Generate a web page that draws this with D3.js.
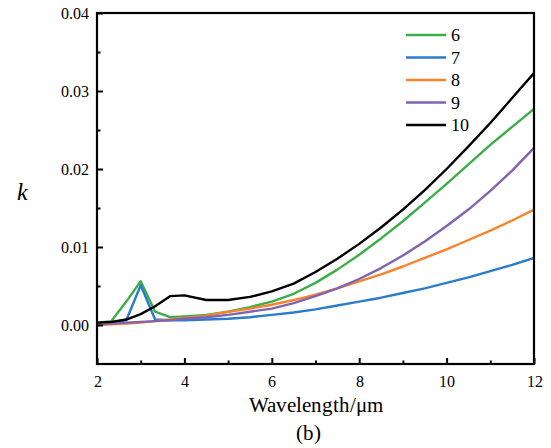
<!DOCTYPE html>
<html>
<head>
<meta charset="utf-8">
<style>
  @font-face { font-family: "ChartSerif"; src: local("Liberation Serif"), local("LiberationSerif"), local("LiberationSerif-Regular"), local("Times New Roman"); font-style: normal; }
  @font-face { font-family: "ChartSerif"; src: local("Liberation Serif Italic"), local("LiberationSerif-Italic"); font-style: italic; }
  html, body { margin: 0; padding: 0; background: #fff; font-family: "Liberation Serif", serif; }
  svg { display: block; }
  svg text { font-family: "ChartSerif", "Liberation Serif", "Times New Roman", serif; }
</style>
<script src="https://cdn.jsdelivr.net/npm/d3@7"></script>
</head>
<body>
<svg id="chart" width="551" height="448"></svg>
<script>
// ---- data ----
const wavelengths = [2, 2.33, 2.67, 3, 3.33, 3.67, 4, 4.5, 5, 5.5, 6, 6.5, 7, 7.5, 8, 8.5, 9, 9.5, 10, 10.5, 11, 11.5, 12];
const seriesNames = ["6", "7", "8", "9", "10"];
const k6  = [0.0003, 0.0005, 0.0030, 0.0056, 0.0017, 0.0010, 0.0011, 0.0013, 0.0017, 0.0023, 0.0030, 0.0040, 0.0054, 0.0071, 0.0090, 0.0111, 0.0133, 0.0157, 0.0181, 0.0206, 0.0231, 0.0254, 0.0277];
const k7  = [0.0000, 0.0002, 0.0006, 0.0051, 0.0007, 0.0006, 0.0006, 0.0007, 0.0008, 0.0010, 0.0013, 0.0016, 0.0020, 0.0025, 0.0030, 0.0035, 0.0041, 0.0047, 0.0054, 0.0061, 0.0069, 0.0077, 0.0086];
const k8  = [0.0000, 0.0001, 0.0002, 0.0003, 0.0005, 0.0007, 0.0009, 0.0012, 0.0017, 0.0021, 0.0026, 0.0032, 0.0039, 0.0047, 0.0056, 0.0065, 0.0075, 0.0086, 0.0097, 0.0109, 0.0121, 0.0134, 0.0148];
const k9  = [0.0001, 0.0002, 0.0003, 0.0004, 0.0005, 0.0006, 0.0008, 0.0010, 0.0013, 0.0017, 0.0021, 0.0028, 0.0037, 0.0047, 0.0059, 0.0073, 0.0089, 0.0107, 0.0127, 0.0148, 0.0172, 0.0198, 0.0227];
const k10 = [0.0003, 0.0004, 0.0007, 0.0014, 0.0024, 0.0037, 0.0038, 0.0032, 0.0032, 0.0036, 0.0043, 0.0053, 0.0068, 0.0085, 0.0104, 0.0125, 0.0148, 0.0173, 0.0200, 0.0229, 0.0259, 0.0291, 0.0323];
const seriesValues = [k6, k7, k8, k9, k10];
const seriesColors = ["#3aaf48", "#2a7ccb", "#f7842c", "#8063b3", "#000000"];
const xTicks = [2, 4, 6, 8, 10, 12];
const xMinorTicks = [3, 5, 7, 9, 11];
const yTicks = [0.00, 0.01, 0.02, 0.03, 0.04];
const yMinorTicks = [0.005, 0.015, 0.025, 0.035];
const yTickLabels = ["0.00", "0.01", "0.02", "0.03", "0.04"];

const FONT = "ChartSerif, Liberation Serif, Times New Roman, serif";

// ---- layout ----
const svg = d3.select("#chart").attr("font-family", FONT);
const L = 97, R = 534, T = 13, B = 364;
const x = d3.scaleLinear().domain([2, 12]).range([L, R]);
const y = d3.scaleLinear().domain([-0.005, 0.04]).range([B, T]);

svg.append("defs").append("clipPath").attr("id", "clip")
  .append("rect").attr("x", L).attr("y", T).attr("width", R - L).attr("height", B - T);

const line = d3.line().x(d => x(d[0])).y(d => y(d[1])).curve(d3.curveLinear);
const plot = svg.append("g").attr("clip-path", "url(#clip)");
seriesValues.forEach((vals, i) => {
  plot.append("path")
    .datum(wavelengths.map((w, j) => [w, vals[j]]))
    .attr("fill", "none")
    .attr("stroke", seriesColors[i])
    .attr("stroke-width", 2.4)
    .attr("stroke-linejoin", "round")
    .attr("d", line);
});

const xAxis = svg.append("g").attr("transform", `translate(0,${B})`)
  .call(d3.axisBottom(x).tickValues(xTicks).tickSize(-6).tickPadding(12).tickFormat(d3.format("d")));
const xMinor = svg.append("g").attr("transform", `translate(0,${B})`)
  .call(d3.axisBottom(x).tickValues(xMinorTicks).tickSize(-3.5).tickFormat(""));
const yAxis = svg.append("g").attr("transform", `translate(${L},0)`)
  .call(d3.axisLeft(y).tickValues(yTicks).tickSize(-6).tickPadding(8).tickFormat((d, i) => yTickLabels[i]));
const yMinor = svg.append("g").attr("transform", `translate(${L},0)`)
  .call(d3.axisLeft(y).tickValues(yMinorTicks).tickSize(-3.5).tickFormat(""));

[xAxis, xMinor, yAxis, yMinor].forEach(g => {
  g.attr("font-family", FONT).attr("font-size", 16);
  g.select(".domain").remove();
  g.selectAll(".tick line").attr("stroke", "#000").attr("stroke-width", 2);
  g.selectAll("text").attr("fill", "#000").attr("font-size", 16);
});

svg.append("rect").attr("x", L).attr("y", T).attr("width", R - L).attr("height", B - T)
  .attr("fill", "none").attr("stroke", "#000").attr("stroke-width", 2.2);

svg.append("text").attr("x", (L + R) / 2).attr("y", 412).attr("text-anchor", "middle")
  .attr("font-size", 21).text("Wavelength/μm");
svg.append("text").attr("x", 308).attr("y", 440).attr("text-anchor", "middle")
  .attr("font-size", 21).text("(b)");
svg.append("text").attr("x", 22).attr("y", 200).attr("text-anchor", "middle")
  .attr("font-size", 24).attr("font-style", "italic").text("k");

const legend = svg.append("g");
seriesNames.forEach((name, i) => {
  const yy = 35 + i * 22.5;
  legend.append("line").attr("x1", 406).attr("x2", 446).attr("y1", yy).attr("y2", yy)
    .attr("stroke", seriesColors[i]).attr("stroke-width", 2.4);
  legend.append("text").attr("x", 451).attr("y", yy).attr("dy", "0.35em")
    .attr("font-size", 18).text(name);
});
</script>
</body>
</html>
